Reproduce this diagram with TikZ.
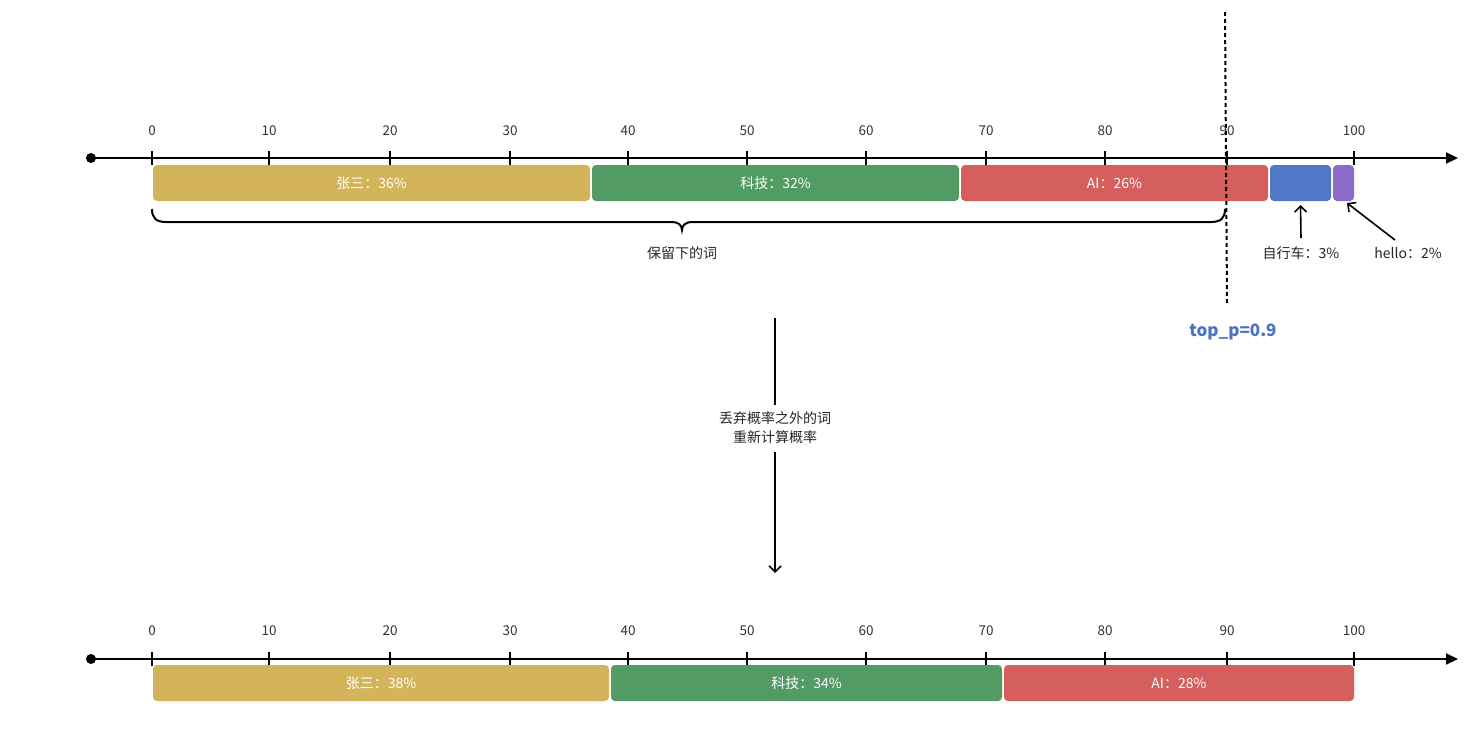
\documentclass[tikz,border=0pt]{standalone}
\usepackage{fontspec}
\setmainfont{Noto Sans CJK SC}
\usetikzlibrary{arrows.meta}
\definecolor{cyel}{HTML}{D4B45A}
\definecolor{cgrn}{HTML}{539B65}
\definecolor{cred}{HTML}{D45F5D}
\definecolor{cblu}{HTML}{5078C6}
\definecolor{cpur}{HTML}{8C6BCB}
\definecolor{ctxt}{HTML}{333333}
\definecolor{ctop}{HTML}{4A72C4}
\begin{document}
\begin{tikzpicture}[x=1pt,y=-1pt,
  axisline/.style={line width=2pt,-{Triangle[length=12pt,width=11pt]}},
  tickmark/.style={line width=1.8pt},
  ticklabel/.style={font=\fontsize{13.5}{15}\selectfont,text=ctxt,inner sep=0pt},
  barbox/.style={rounded corners=4pt,inner sep=0pt,minimum height=36pt,text=white,font=\fontsize{14}{16}\selectfont},
  lbl/.style={font=\fontsize{14}{16}\selectfont,text=black!85,inner sep=0pt},
  thinarrow/.style={line width=1.6pt,-{Straight Barb[length=6pt,width=12pt]}}
]
\fill[white] (0,0) rectangle (1484,734);
\useasboundingbox (0,0) rectangle (1484,734);

% ---------- top axis ----------
\coordinate (o1) at (91,158);
\coordinate (e1) at (1458,158);
\fill (o1) circle (5pt);
\draw[axisline] (o1) -- (e1);
\foreach \x/\v in {152/0,269/10,390/20,510/30,628/40,747/50,866/60,986/70,1105/80,1227/90,1354/100}{
  \draw[tickmark] (\x,151) -- (\x,165);
  \node[ticklabel] (t1-\v) at (\x,131) {\v};
}
\node[barbox,fill=cyel,minimum width=437pt] (y1) at (371.5,183) {张三：36\%};
\node[barbox,fill=cgrn,minimum width=367pt] (g1) at (775.5,183) {科技：32\%};
\node[barbox,fill=cred,minimum width=307pt] (r1) at (1114.5,183) {AI：26\%};
\node[barbox,fill=cblu,minimum width=61pt] (b1) at (1300.5,183) {};
\node[barbox,fill=cpur,minimum width=21pt] (p1) at (1343.5,183) {};

% brace
\draw[line width=2pt] (152,209) .. controls (152,218) and (156,222) .. (166,222) -- (672,222)
  .. controls (678,222) and (682,225) .. (682,230)
  .. controls (682,225) and (686,222) .. (692,222) -- (1211,222)
  .. controls (1221,222) and (1225,218) .. (1225,209);
\node[lbl] (keep) at (682,253) {保留下的词};

% cut line
\coordinate (c1) at (1225,12);
\coordinate (c2) at (1227,303);
\draw[line width=2pt,dash pattern=on 4pt off 3pt] (c1) -- (c2);
\node[font=\fontsize{17}{20}\selectfont\bfseries,text=ctop,inner sep=0pt] (topp) at (1233,332) {top\_p=0.9};

% small labels
\node[lbl] (bike) at (1301,253) {自行车：3\%};
\node[lbl] (hello) at (1408,253) {hello：2\%};
\coordinate (bk) at (1301,238);
\coordinate (hl) at (1395,240);
\draw[thinarrow] (bk) -- (b1.south |- 0,205);
\draw[thinarrow] (hl) -- (1347,203);

% middle arrow
\node[lbl,align=center,font=\fontsize{14}{19}\selectfont] (mid) at (775,428) {丢弃概率之外的词\\重新计算概率};
\coordinate (ms) at (775,318);
\coordinate (me) at (775,573);
\draw[line width=1.6pt] (ms) -- (775,405);
\draw[thinarrow] (775,452) -- (me);

% ---------- bottom axis ----------
\coordinate (o2) at (91,659);
\coordinate (e2) at (1458,659);
\fill (o2) circle (5pt);
\draw[axisline] (o2) -- (e2);
\foreach \x/\v in {152/0,269/10,390/20,510/30,628/40,747/50,866/60,986/70,1105/80,1227/90,1354/100}{
  \draw[tickmark] (\x,652) -- (\x,666);
  \node[ticklabel] (t2-\v) at (\x,631) {\v};
}
\node[barbox,fill=cyel,minimum width=456pt] (y2) at (381,683) {张三：38\%};
\node[barbox,fill=cgrn,minimum width=391pt] (g2) at (806.5,683) {科技：34\%};
\node[barbox,fill=cred,minimum width=350pt] (r2) at (1179,683) {AI：28\%};
\end{tikzpicture}
\end{document}
